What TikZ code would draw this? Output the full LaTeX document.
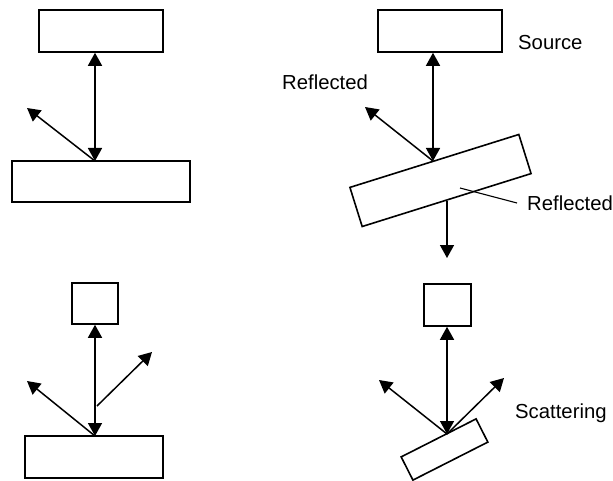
\documentclass[tikz,border=0pt]{standalone}
\usepackage{fontspec}
\setmainfont{Liberation Sans}
\usetikzlibrary{arrows.meta}
\begin{document}
\begin{tikzpicture}[x=1pt,y=-1pt,
  box/.style={draw,line width=1.6pt,inner sep=0pt,fill=white},
  arr/.style={line width=1.5pt,-{Triangle[length=13pt,width=14pt]}},
  dbl/.style={line width=1.5pt,{Triangle[length=13pt,width=14pt]}-{Triangle[length=13pt,width=14pt]}},
  lbl/.style={font=\fontsize{20.3}{23}\selectfont,inner sep=0pt,anchor=west},
  lead/.style={line width=1.1pt}]
\useasboundingbox (0,0) rectangle (613,481);
% panel 1
\node[box,minimum width=124pt,minimum height=42pt] (s1) at (101,31) {};
\node[box,minimum width=178pt,minimum height=41pt] (b1) at (101,181.5) {};
\coordinate (p1) at (95,161);
\coordinate (r1) at (27,108);
\draw[dbl] (p1) -- (p1 |- s1.south);
\draw[arr] (p1) -- (r1);
% panel 2
\node[box,minimum width=124pt,minimum height=42pt] (s2) at (440,31) {};
\node[lbl] (src) at (518,43) {Source};
\node[lbl] (ref1) at (282,82) {Reflected};
\node[box,minimum width=177pt,minimum height=41pt,rotate=17.4] (b2) at (440.5,180.5) {};
\coordinate (p2) at (433,161);
\coordinate (r2) at (365,107);
\draw[dbl] (p2) -- (p2 |- s2.south);
\draw[arr] (p2) -- (r2);
\node[lbl] (ref2) at (527,203) {Reflected};
\coordinate (l2) at (460,188);
\coordinate (l2e) at (517,203);
\draw[lead] (l2) -- (l2e);
\coordinate (d2a) at (447,201);
\coordinate (d2b) at (447,258);
\draw[arr] (d2a) -- (d2b);
% panel 3
\node[box,minimum width=46pt,minimum height=41pt] (s3) at (95,303.5) {};
\node[box,minimum width=138pt,minimum height=42pt] (b3) at (94,457) {};
\coordinate (p3) at (95,436);
\coordinate (r3) at (27,381);
\coordinate (q3) at (97,406);
\coordinate (t3) at (152,352);
\draw[dbl] (p3) -- (p3 |- s3.south);
\draw[arr] (p3) -- (r3);
\draw[arr] (q3) -- (t3);
% panel 4
\node[box,minimum width=47pt,minimum height=42pt] (s4) at (447.5,305) {};
\node[box,minimum width=84pt,minimum height=26pt,rotate=26.9] (b4) at (444.5,449.5) {};
\coordinate (p4) at (447,434);
\coordinate (r4) at (379,380);
\coordinate (t4) at (504,378);
\draw[dbl] (p4) -- (p4 |- s4.south);
\draw[arr] (p4) -- (r4);
\draw[arr] (p4) -- (t4);
\node[lbl] (sc) at (515,413) {Scattering};
\end{tikzpicture}
\end{document}
